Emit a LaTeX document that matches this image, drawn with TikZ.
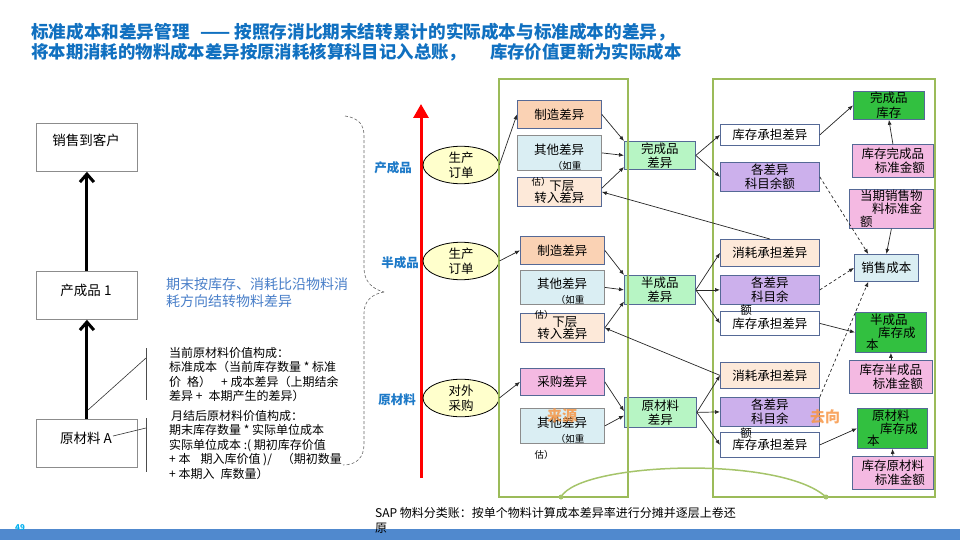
\documentclass[tikz,border=0pt]{standalone}
\usepackage{fontspec}
\setmainfont{Noto Sans CJK SC}
\usetikzlibrary{arrows.meta,shapes.geometric,calc}

\definecolor{titleblue}{RGB}{16,112,192}
\definecolor{lblblue}{RGB}{30,122,200}
\definecolor{noteblue}{RGB}{72,126,200}
\definecolor{frameG}{RGB}{155,187,89}
\definecolor{curveG}{RGB}{165,196,106}
\definecolor{mfgO}{RGB}{250,210,180}
\definecolor{othB}{RGB}{218,238,243}
\definecolor{lowP}{RGB}{253,233,217}
\definecolor{pinkP}{RGB}{244,185,226}
\definecolor{midG}{RGB}{183,245,196}
\definecolor{lav}{RGB}{204,176,236}
\definecolor{stkG}{RGB}{50,192,64}
\definecolor{bord}{RGB}{85,105,150}
\definecolor{graybox}{RGB}{140,140,140}
\definecolor{ovalY}{RGB}{255,255,204}
\definecolor{tagO}{RGB}{247,150,70}
\definecolor{barB}{RGB}{80,137,206}
\definecolor{pageC}{RGB}{0,176,240}

\tikzset{
  box/.style={draw=bord, line width=0.8pt, inner sep=0pt, anchor=north west,
    align=center, font=\fontsize{12.5}{14}\selectfont},
  leftbox/.style={draw=graybox, line width=0.8pt, inner sep=0pt, anchor=north west,
    minimum width=101pt, minimum height=48pt},
  txt/.style={inner sep=0pt, font=\fontsize{12.5}{14}\selectfont},
  smalltxt/.style={inner sep=0pt, font=\fontsize{9.5}{11}\selectfont},
  oval/.style={ellipse, draw=black, line width=0.8pt, fill=ovalY, minimum width=76pt,
    minimum height=36pt, inner sep=0pt, align=center, font=\fontsize{12.5}{15}\selectfont},
  lvl/.style={inner sep=0pt, text=lblblue, font=\fontsize{12.5}{14}\selectfont\bfseries},
  con/.style={draw=black!85, line width=0.7pt, -{Latex[length=5pt,width=4pt]}},
  dcon/.style={con, dash pattern=on 3pt off 2.5pt},
  zone/.style={draw=frameG, line width=2pt},
  tagtxt/.style={inner sep=0pt, text=tagO, opacity=0.85, font=\fontsize{15}{16}\selectfont\bfseries},
  bigarrow/.style={line width=3pt, -{Straight Barb[length=8pt,width=14pt]}},
  note/.style={inner sep=0pt, anchor=north west, align=left, font=\fontsize{12}{14.5}\selectfont},
}

\begin{document}
\begin{tikzpicture}[x=1pt,y=-1pt]
\useasboundingbox (0,0) rectangle (960,540);

% ---------- title ----------
\node[inner sep=0pt, anchor=west, text=titleblue, font=\fontsize{17.6}{20}\selectfont\bfseries] (title1) at (31,32)
  {标准成本和差异管理\hspace*{11pt}——\hspace*{4pt}按照存消比期末结转累计的实际成本与标准成本的差异，};
\node[inner sep=0pt, anchor=west, text=titleblue, font=\fontsize{17.4}{20}\selectfont\bfseries] (title2) at (31,52)
  {将本期消耗的物料成本差异按原消耗核算科目记入总账，\hspace*{24pt}库存价值更新为实际成本};

% ---------- left chain ----------
\node[leftbox] (sale) at (36,123) {};
\node[leftbox] (prod) at (36,271) {};
\node[leftbox] (raw) at (36,419) {};
\node[txt, font=\fontsize{13.5}{15}\selectfont] (saleT) at (86,140) {销售到客户};
\node[txt, font=\fontsize{13.5}{15}\selectfont] (prodT) at (86,290) {产成品 1};
\node[txt, font=\fontsize{13.5}{15}\selectfont] (rawT) at (86,438) {原材料 A};
\draw[bigarrow] (raw.north) -- (prod.south);
\draw[bigarrow] (prod.north) -- (sale.south);

% callout brackets for the notes
\coordinate (b1t) at (146,348); \coordinate (b1b) at (146,400);
\coordinate (b2t) at (146,418); \coordinate (b2b) at (146,472);
\coordinate (d1s) at (88,410);  \coordinate (d1e) at (146,358);
\coordinate (d2s) at (113,436); \coordinate (d2e) at (146,428);
\draw[black!70, line width=1pt] (b1t) -- (b1b);
\draw[black!70, line width=1pt] (b2t) -- (b2b);
\draw[black!80, line width=0.6pt] (d1s) -- (d1e);
\draw[black!80, line width=0.6pt] (d2s) -- (d2e);

\node[note] (note1) at (169,347) {当前原材料价值构成：\\标准成本（当前库存数量 * 标准\\价\hspace*{6pt}格）\hspace*{10pt}+ 成本差异（上期结余\\差异 +\hspace*{6pt}本期产生的差异）};
\node[note] (note2) at (169,410) {\hspace*{2pt}月结后原材料价值构成：\\期末库存数量 * 实际单位成本\\实际单位成本 :( 期初库存价值\\+ 本\hspace*{10pt}期入库价值 )/\hspace*{10pt}（期初数量\\+ 本期入\hspace*{6pt}库数量）};

\node[inner sep=0pt, anchor=north west, align=left, text=noteblue, font=\fontsize{14}{17}\selectfont] (flow) at (166,277)
  {期末按库存、消耗比沿物料消\\耗方向结转物料差异};

% dashed brace
\draw[black!60, line width=0.6pt, dash pattern=on 3pt off 2pt]
  (345,116) .. controls (359,118) and (364,125) .. (364,136) -- (364,268)
  .. controls (364,281) and (372,289) .. (384,292);
\draw[black!60, line width=0.6pt, dash pattern=on 3pt off 2pt]
  (384,292) .. controls (372,294) and (364,301) .. (364,313) -- (364,444)
  .. controls (364,457) and (357,465) .. (343,465);

% ---------- level axis ----------
\coordinate (axB) at (421,478);
\coordinate (axT) at (421,104);
\draw[red, line width=3pt, -{Triangle[length=14pt,width=15pt]}] (axB) -- (axT);
\node[lvl] (lvF) at (393,168) {产成品};
\node[lvl] (lvS) at (400,263) {半成品};
\node[lvl] (lvR) at (397,400) {原材料};

\node[oval] (e1) at (461,165) {生产\\订单};
\node[oval] (e2) at (461,261) {生产\\订单};
\node[oval] (e3) at (461,398) {对外\\采购};

% ---------- source variances ----------
\node[box, fill=mfgO, minimum width=84pt, minimum height=28pt] (m1) at (517,100) {制造差异};
\node[box, fill=othB, draw=graybox, minimum width=84pt, minimum height=35pt] (o1) at (517,135) {};
\node[box, fill=lowP, minimum width=84pt, minimum height=29pt, align=left, font=\fontsize{12.5}{11}\selectfont] (l1) at (517,177) {\hspace*{15pt}下层\\转入差异};
\node[box, fill=mfgO, minimum width=84pt, minimum height=28pt] (m2) at (520,236) {制造差异};
\node[box, fill=othB, draw=graybox, minimum width=84pt, minimum height=34pt] (o2) at (520,270) {};
\node[box, fill=lowP, minimum width=84pt, minimum height=29pt, align=left, font=\fontsize{12.5}{11}\selectfont] (l2) at (520,313) {\hspace*{15pt}下层\\转入差异};
\node[box, fill=pinkP, minimum width=84pt, minimum height=27pt] (p3) at (520,368) {采购差异};
\node[box, fill=othB, draw=graybox, minimum width=84pt, minimum height=35pt] (o3) at (520,408) {};

\node[txt] (o1a) at (559,150) {其他差异};
\node[smalltxt] (o1b) at (567,166) {（如重};
\node[smalltxt] (o1c) at (541,182) {估）};
\node[txt] (o2a) at (562,284) {其他差异};
\node[smalltxt] (o2b) at (570,300) {（如重};
\node[smalltxt] (o2c) at (544,315) {估）};
\node[txt] (o3a) at (562,423) {其他差异};
\node[smalltxt] (o3b) at (570,439) {（如重};
\node[smalltxt] (o3c) at (544,455) {估）};

% ---------- material-level variances ----------
\node[box, fill=midG, minimum width=71pt, minimum height=28pt] (gF) at (624,141) {完成品\\差异};
\node[box, fill=midG, minimum width=71pt, minimum height=29pt] (gS) at (624,275) {半成品\\差异};
\node[box, fill=midG, minimum width=72pt, minimum height=30pt] (gR) at (624,397) {原材料\\差异};

% ---------- allocation ----------
\node[box, fill=white, minimum width=99pt, minimum height=21pt] (r1) at (720,124) {库存承担差异};
\node[box, fill=lav, minimum width=99pt, minimum height=29pt] (r2) at (720,162) {各差异\\科目余额};
\node[box, fill=lowP, minimum width=99pt, minimum height=27pt] (r3) at (720,239) {消耗承担差异};
\node[box, fill=lav, minimum width=99pt, minimum height=29pt] (r4) at (720,275) {各差异\\科目余};
\node[box, fill=white, minimum width=99pt, minimum height=24pt] (r5) at (720,311) {库存承担差异};
\node[box, fill=lowP, minimum width=99pt, minimum height=26pt] (r6) at (720,362) {消耗承担差异};
\node[box, fill=lav, minimum width=99pt, minimum height=29pt] (r7) at (720,397) {各差异\\科目余};
\node[box, fill=white, minimum width=99pt, minimum height=25pt] (r8) at (720,432) {库存承担差异};
\node[txt, font=\fontsize{11.5}{12}\selectfont] (r4x) at (746,310) {额};
\node[txt, font=\fontsize{11.5}{12}\selectfont] (r7x) at (746,433) {额};

% ---------- targets ----------
\node[box, fill=stkG, minimum width=71pt, minimum height=28pt, font=\fontsize{12.5}{15}\selectfont] (f1) at (853,91) {完成品\\库存};
\node[box, fill=pinkP, minimum width=81pt, minimum height=33pt] (f2) at (852,144) {库存完成品\\\hspace*{14pt}标准金额};
\node[box, fill=pinkP, minimum width=84pt, minimum height=39pt, align=left, font=\fontsize{12.5}{13}\selectfont] (f3) at (849,189) {当期销售物\\\hspace*{12pt}料标准金\\额};
\node[box, fill=othB, minimum width=64pt, minimum height=27pt] (sc) at (854,254) {销售成本};
\node[box, fill=stkG, minimum width=71pt, minimum height=40pt, align=left, font=\fontsize{12.5}{12.8}\selectfont] (f4) at (855,312) {\hspace*{4pt}半成品\\\hspace*{12pt}库存成\\本};
\node[box, fill=pinkP, minimum width=83pt, minimum height=33pt] (f5) at (849,360) {库存半成品\\\hspace*{14pt}标准金额};
\node[box, fill=stkG, minimum width=70pt, minimum height=40pt, align=left, font=\fontsize{12.5}{12.8}\selectfont] (f6) at (857,408) {\hspace*{5pt}原材料\\\hspace*{13pt}库存成\\本};
\node[box, fill=pinkP, minimum width=81pt, minimum height=33pt] (f7) at (852,456) {库存原材料\\\hspace*{14pt}标准金额};

% ---------- frames ----------
\draw[zone] (499,79) rectangle (628,497);
\draw[zone] (713,79) rectangle (935,497);

% ---------- connectors ----------
\draw[con] (e1.east) -- (m1.west);
\draw[con] (e2.east) -- (m2.west);
\draw[con] (e3.east) -- (p3.west);

\draw[con] (m1.east) -- (gF.north west);
\draw[con] (o1.east) -- (gF.west);
\draw[con] (l1.5) -- (gF.198);
\draw[con] (m2.east) -- (gS.north west);
\draw[con] (o2.east) -- (gS.west);
\draw[con] (l2.east) -- (gS.198);
\draw[con] (p3.east) -- (gR.178);
\draw[con] (o3.east) -- (gR.185);

\draw[con] (r3.north) -- (l1.east);
\draw[con] (r6.west) -- (l2.east);

\draw[con] (gF.east) -- (r1.west);
\draw[con] (gF.east) -- (r2.west);
\draw[con] (gS.east) -- (r3.west);
\draw[con] (gS.east) -- (r4.west);
\draw[con] (gS.east) -- (r5.west);
\draw[con] (gR.east) -- (r6.west);
\draw[con] (gR.east) -- (r7.west);
\draw[con] (gR.east) -- (r8.west);

\draw[con] (r1.east) -- (f1.west);
\draw[con] (f2.north) -- (f1.south);
\draw[dcon] (r2.east) -- ($(sc.north west)!0.22!(sc.north east)$);
\draw[con] (f3.south) -- (sc.north);
\draw[dcon] (r4.east) -- (sc.west);
\draw[dcon] (r7.north east) -- ($(sc.south west)!0.22!(sc.south east)$);
\draw[con] (r5.east) -- (f4.west);
\draw[con] (f5.north) -- (f4.south);
\draw[con] (r8.east) -- (f6.west);
\draw[con] (f7.north) -- (f6.south);

% ---------- source / destination link ----------
\coordinate (cL) at (561,497);
\coordinate (cR) at (826,497);
\draw[curveG, line width=1.5pt] (cL) .. controls (580,462) and (780,455) .. (cR);
\fill[curveG] (cL) circle (2.5pt);
\fill[curveG] (cR) circle (2.5pt);

\node[tagtxt] (src) at (562,416) {来源};
\node[tagtxt] (dst) at (825,417) {去向};

% ---------- footer ----------
\fill[barB] (0,529) rectangle (960,540);
\node[inner sep=0pt, anchor=north west, align=left, font=\fontsize{12}{15}\selectfont] (foot) at (375,507)
  {SAP 物料分类账：按单个物料计算成本差异率进行分摊并逐层上卷还\\原};
\node[inner sep=0pt, text=pageC, font=\fontsize{8}{9}\selectfont\bfseries] (page) at (20,528) {49};
\end{tikzpicture}
\end{document}
